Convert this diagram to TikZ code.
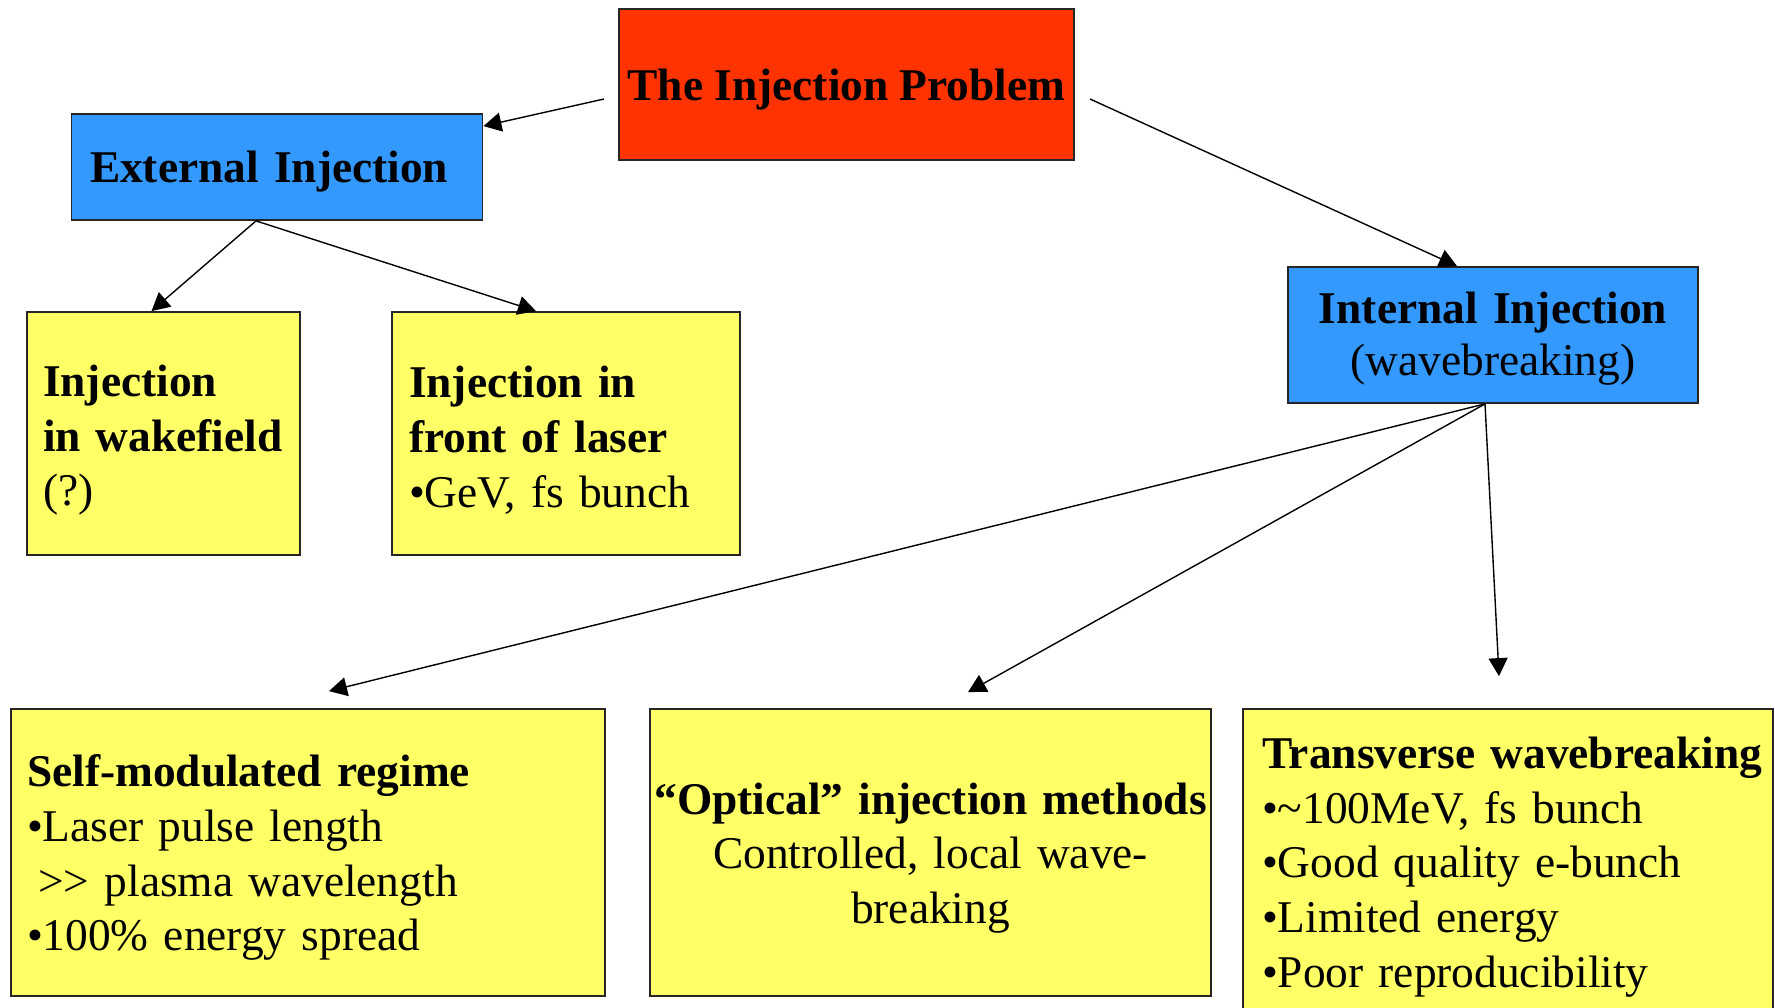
\documentclass[tikz,border=0pt]{standalone}
\usepackage{fontspec}
\setmainfont{Liberation Serif}
\usetikzlibrary{arrows.meta,positioning}
\definecolor{probred}{HTML}{FF3300}
\definecolor{injblue}{HTML}{3399FF}
\definecolor{noteyellow}{HTML}{FFFF66}

\begin{document}
\begin{tikzpicture}[x=0.5pt, y=-0.5pt,
    box/.style={draw=black!85, line width=0.9pt, inner sep=0pt, font=\fontsize{22.7}{27.35}\selectfont},
    redbox/.style={box, fill=probred},
    bluebox/.style={box, fill=injblue},
    yellowbox/.style={box, fill=noteyellow},
    arr/.style={-{Triangle[length=9pt,width=9.5pt]}, line width=0.7pt}]
    \useasboundingbox (0,0) rectangle (1775,1007);
    \clip (0,0) rectangle (1775,1007);

    % Top
    \node[redbox, minimum width=227.5pt, minimum height=75.5pt, text depth=0pt] (prob) at (846.5,84.5) {\textbf{The Injection Problem}};
    \node[bluebox, minimum width=205.5pt, minimum height=53pt, text width=187pt, align=left, text depth=-1.5pt] (ext) at (277,167) {\textbf{External Injection}};
    \node[bluebox, minimum width=205pt, minimum height=68pt, text width=200pt, align=center, text height=19.5pt, font=\fontsize{22.7}{26.35}\selectfont] (int) at (1493,335) {\textbf{Internal Injection}\\(wavebreaking)};

    % External branch
    \node[yellowbox, minimum width=136.5pt, minimum height=121.5pt, text width=120.5pt, align=left, text height=22.5pt] (wake) at (163.5,433.5) {\textbf{Injection}\\\textbf{in wakefield}\\(?)};
    \node[yellowbox, minimum width=174pt, minimum height=121.5pt, text width=157pt, align=left, text height=22.5pt] (front) at (566,433.5) {\textbf{Injection in}\\\textbf{front of laser}\\•GeV, fs bunch};

    % Internal branch
    \node[yellowbox, minimum width=297pt, minimum height=143.5pt, text width=281pt, align=left, text height=21.2pt] (selfmod) at (308,852.5) {\textbf{Self-modulated regime}\\•Laser pulse length\\\hspace*{0.25em}>\kern0pt> plasma wavelength\\•100\% energy spread};
    \node[yellowbox, minimum width=280.5pt, minimum height=143.5pt, text width=278pt, align=center, text height=21.2pt] (optical) at (930.5,852.5) {\textbf{“Optical” injection methods}\\Controlled, local wave-\\breaking};
    \node[yellowbox, minimum width=265pt, minimum height=152pt, text width=246pt, align=left, text height=21.7pt] (trans) at (1508,861) {\mbox{\textbf{Transverse wavebreaking}}\\•\textasciitilde100MeV, fs bunch\\•Good quality e-bunch\\•Limited energy\\•Poor reproducibility};

    % arrow ends off the boxes
    \coordinate (probl) at (604,99);
    \coordinate (probr) at (1090,99);
    \coordinate (selfmodtip) at ([xshift=10.5pt,yshift=8.5pt]selfmod.north);
    \coordinate (opticaltip) at ([xshift=18.75pt,yshift=8pt]optical.north);
    \coordinate (transtip) at ([xshift=-4.5pt,yshift=16pt]trans.north);

    \draw[arr] (probl) -- ([yshift=-6.5pt]ext.north east);
    \draw[arr] (probr) -- ([xshift=-18pt]int.north);
    \draw[arr] ([xshift=-10.5pt]ext.south) -- ([xshift=-6pt]wake.north);
    \draw[arr] ([xshift=-10.5pt]ext.south) -- ([xshift=-15pt]front.north);
    \draw[arr] ([xshift=-4pt]int.south) -- (selfmodtip);
    \draw[arr] ([xshift=-4pt]int.south) -- (opticaltip);
    \draw[arr] ([xshift=-4pt]int.south) -- (transtip);
\end{tikzpicture}
\end{document}
